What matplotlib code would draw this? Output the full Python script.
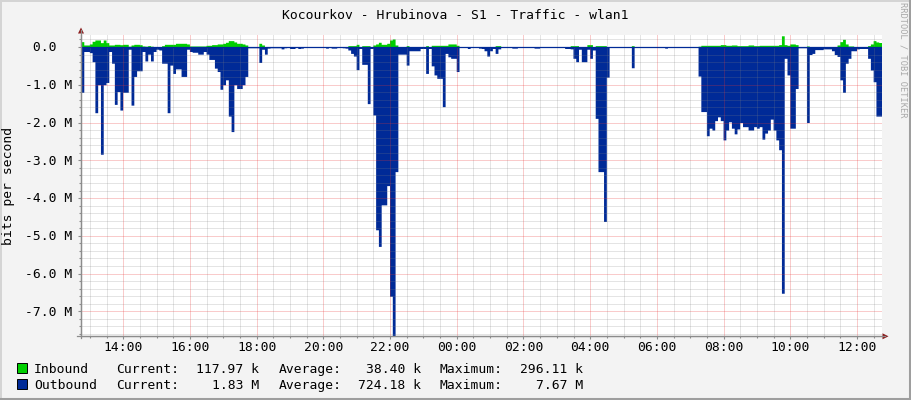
import numpy as np
import pandas as pd
import matplotlib
matplotlib.use("Agg")
import matplotlib.pyplot as plt
import matplotlib.dates as mdates
from matplotlib.lines import Line2D
from matplotlib.patches import Polygon, Rectangle
from matplotlib.transforms import blended_transform_factory, ScaledTranslation

# ---------------- data ----------------
title = "Kocourkov - Hrubinova - S1 - Traffic - wlan1"
y_label = "bits per second"
watermark = "RRDTOOL / TOBI OETIKER"
start_time = "2024-01-01 12:44"
end_time = "2024-01-02 12:44"
step = "5min"

# outbound traffic, M bits/s (drawn downward), one value per 5 minutes
outbound_m = [
    1.2, 0.12, 0.12, 0.15, 0.39, 1.74, 1.0, 2.84, 1.0, 0.94, 0.12, 0.43,
    1.52, 1.18, 1.67, 1.2, 1.2, 0.06, 1.54, 0.78, 0.63, 0.63, 0.12, 0.37,
    0.19, 0.37, 0.12, 0.06, 0.08, 0.43, 0.43, 1.74, 0.48, 0.7, 0.58, 0.58,
    0.78, 0.78, 0.06, 0.12, 0.14, 0.14, 0.19, 0.19, 0.12, 0.19, 0.33, 0.33,
    0.56, 0.65, 1.12, 1.0, 0.87, 1.83, 2.24, 1.0, 1.1, 1.1, 1.0, 0.78,
    0.02, 0.02, 0.02, 0.02, 0.41, 0.06, 0.19, 0.03, 0.02, 0.02, 0.02, 0.02,
    0.05, 0.02, 0.01, 0.04, 0.04, 0.01, 0.04, 0.03, 0.01, 0.01, 0.01, 0.01,
    0.01, 0.01, 0.01, 0.01, 0.03, 0.01, 0.03, 0.03, 0.01, 0.01, 0.02, 0.03,
    0.08, 0.17, 0.24, 0.6, 0.04, 0.46, 0.46, 1.5, 0.04, 1.8, 4.84, 5.28,
    4.18, 4.18, 3.67, 6.6, 7.67, 3.3, 0.19, 0.19, 0.19, 0.48, 0.1, 0.1,
    0.1, 0.1, 0.04, 0.04, 0.7, 0.04, 0.5, 0.74, 0.83, 0.83, 1.58, 0.17,
    0.26, 0.3, 0.3, 0.65, 0.01, 0.01, 0.01, 0.04, 0.01, 0.01, 0.01, 0.03,
    0.04, 0.1, 0.24, 0.1, 0.04, 0.17, 0.05, 0.01, 0.01, 0.01, 0.01, 0.03,
    0.03, 0.01, 0.01, 0.01, 0.01, 0.01, 0.01, 0.03, 0.03, 0.01, 0.01, 0.01,
    0.01, 0.01, 0.01, 0.01, 0.01, 0.01, 0.04, 0.04, 0.05, 0.3, 0.39, 0.06,
    0.39, 0.39, 0.06, 0.3, 0.08, 1.89, 3.3, 3.3, 4.62, 0.8, 0.01, 0.01,
    0.01, 0.01, 0.01, 0.01, 0.01, 0.01, 0.55, 0.01, 0.01, 0.01, 0.01, 0.01,
    0.01, 0.01, 0.01, 0.01, 0.01, 0.01, 0.03, 0.01, 0.01, 0.01, 0.01, 0.01,
    0.01, 0.01, 0.01, 0.01, 0.01, 0.01, 0.77, 1.71, 1.71, 2.35, 2.15, 2.2,
    1.95, 1.85, 1.95, 2.46, 2.2, 1.98, 2.15, 2.3, 2.17, 2.0, 2.11, 2.11,
    2.2, 2.2, 2.11, 2.15, 2.11, 2.44, 2.28, 2.2, 1.91, 2.2, 2.46, 2.72,
    6.52, 0.3, 0.74, 2.15, 2.15, 1.1, 0.02, 0.02, 0.02, 2.0, 0.2, 0.17,
    0.07, 0.07, 0.07, 0.05, 0.05, 0.05, 0.1, 0.2, 0.25, 0.87, 1.2, 0.43,
    0.3, 0.1, 0.1, 0.05, 0.04, 0.04, 0.04, 0.3, 0.61, 0.92, 1.83, 1.83,
]

# inbound traffic, k bits/s (drawn upward)
inbound_k = [
    141, 53, 53, 80, 150, 185, 185, 115, 185, 115, 53, 53,
    70, 70, 60, 70, 70, 20, 53, 70, 70, 60, 26, 20,
    35, 20, 10, 9, 9, 35, 70, 70, 70, 70, 97, 97,
    97, 97, 80, 26, 26, 26, 26, 26, 26, 44, 44, 62,
    62, 80, 80, 97, 124, 168, 168, 133, 97, 97, 80, 53,
    0, 0, 0, 0, 97, 53, 5, 2, 2, 2, 2, 2,
    2, 2, 2, 2, 2, 2, 2, 2, 2, 2, 2, 2,
    2, 2, 2, 2, 2, 2, 2, 2, 2, 2, 2, 2,
    35, 35, 35, 70, 5, 35, 35, 35, 10, 53, 80, 124,
    70, 70, 97, 185, 212, 53, 8, 8, 8, 35, 5, 5,
    5, 5, 5, 5, 35, 5, 44, 44, 44, 44, 44, 44,
    80, 80, 80, 44, 2, 2, 2, 2, 2, 2, 2, 2,
    2, 2, 2, 2, 2, 35, 35, 2, 2, 2, 2, 2,
    2, 2, 2, 2, 2, 2, 2, 2, 2, 2, 2, 2,
    2, 2, 2, 2, 2, 2, 2, 2, 35, 35, 35, 2,
    2, 2, 62, 62, 2, 35, 35, 35, 35, 2, 2, 2,
    2, 2, 2, 2, 2, 2, 35, 2, 2, 2, 2, 2,
    2, 2, 2, 2, 2, 2, 2, 2, 2, 2, 2, 2,
    2, 2, 2, 2, 2, 2, 20, 44, 44, 44, 44, 44,
    44, 44, 62, 62, 44, 44, 53, 53, 35, 35, 35, 35,
    53, 53, 35, 35, 44, 44, 44, 44, 44, 44, 44, 62,
    296.11, 62, 44, 80, 80, 62, 2, 2, 2, 26, 2, 2,
    2, 2, 2, 2, 2, 2, 2, 2, 53, 141, 203, 80,
    26, 26, 2, 2, 2, 2, 2, 35, 80, 168, 133, 118,
]

ytick_values_m = [0, -1, -2, -3, -4, -5, -6, -7]
ytick_labels = [" 0.0", "-1.0 M", "-2.0 M", "-3.0 M", "-4.0 M", "-5.0 M", "-6.0 M", "-7.0 M"]
xtick_times = ["2024-01-01 14:00", "2024-01-01 16:00", "2024-01-01 18:00", "2024-01-01 20:00",
               "2024-01-01 22:00", "2024-01-02 00:00", "2024-01-02 02:00", "2024-01-02 04:00",
               "2024-01-02 06:00", "2024-01-02 08:00", "2024-01-02 10:00", "2024-01-02 12:00"]
xtick_labels = ["14:00", "16:00", "18:00", "20:00", "22:00", "00:00",
                "02:00", "04:00", "06:00", "08:00", "10:00", "12:00"]

legend_names = ["Inbound", "Outbound"]
legend_colors = ["#00CF00", "#002A97"]
legend_current = ["117.97 k", "1.83 M"]
legend_average = ["38.40 k", "724.18 k"]
legend_maximum = ["296.11 k", "7.67 M"]

# ---------------- style ----------------
W, H = 911, 400
MONO = "DejaVu Sans Mono"
FS = 9.4
plt.rcParams["lines.scale_dashes"] = False


def fx(x):
    return x / W


def fy(y):
    return 1 - y / H


fig = plt.figure(figsize=(W / 100, H / 100), dpi=100)
fig.patch.set_facecolor("#F3F3F3")

ax_left, ax_right, ax_top, ax_bottom = 81, 881.5, 35, 336.3
ax = fig.add_axes([fx(ax_left), fy(ax_bottom), (ax_right - ax_left) / W, (ax_bottom - ax_top) / H])
ax.set_facecolor("white")

edges = pd.date_range(start_time, periods=len(outbound_m) + 1, freq=step)
xe = mdates.date2num(edges.to_pydatetime())
out_v = -np.array(outbound_m) * 1e6
in_v = np.array(inbound_k) * 1e3

ax.fill_between(xe, 0, np.r_[in_v, in_v[-1]], step="post", color=legend_colors[0], lw=0, zorder=1)
ax.fill_between(xe, 0, np.r_[out_v, out_v[-1]], step="post", color=legend_colors[1], lw=0, zorder=1)
ax.axhline(0, color=legend_colors[1], lw=0.9, zorder=4)

x0 = mdates.date2num(pd.Timestamp(start_time).to_pydatetime())
x1 = mdates.date2num(pd.Timestamp(end_time).to_pydatetime())
ax.set_xlim(x0, x1)
ax.set_ylim(-7.66e6, 0.317e6)

# grid (drawn over the areas, like rrdtool)
gray = (0.5, 0.5, 0.5, 0.42)
red = (0.92, 0.2, 0.2, 0.5)
dash = (0, (0.72, 0.72))
minor_x = pd.date_range("2024-01-01 13:00", "2024-01-02 12:30", freq="30min")
major_x = pd.to_datetime(xtick_times)
for t in minor_x:
    if t not in set(major_x):
        ax.axvline(mdates.date2num(t.to_pydatetime()), color=gray, lw=0.72, ls=dash, zorder=2)
for t in major_x:
    ax.axvline(mdates.date2num(t.to_pydatetime()), color=red, lw=0.72, ls=dash, zorder=3)
minor_y = np.arange(-76, 2) * 0.1e6
for v in np.arange(-38, 2) * 0.2e6:
    if abs(v / 1e6 - round(v / 1e6)) > 1e-6:
        ax.axhline(v, color=gray, lw=0.72, ls=dash, zorder=2)
for v in ytick_values_m:
    if v != 0:
        ax.axhline(v * 1e6, color=red, lw=0.72, ls=dash, zorder=3)

for s in ["top", "right"]:
    ax.spines[s].set_visible(False)
for s in ["left", "bottom"]:
    ax.spines[s].set_color("#8c8c8c")
    ax.spines[s].set_linewidth(0.9)

ax.set_xticks(mdates.date2num(major_x.to_pydatetime()))
ax.set_xticks(mdates.date2num(minor_x.to_pydatetime()), minor=True)
ax.set_yticks(np.array(ytick_values_m) * 1e6)
ax.set_yticks(np.arange(-38, 2) * 0.2e6, minor=True)
ax.tick_params(which="major", direction="out", length=2.5, width=0.8, color="#8c8c8c",
               labelbottom=False, labelleft=False)
ax.tick_params(which="minor", direction="out", length=1.5, width=0.8, color="#8c8c8c")

# axis extensions and arrows
fig.add_artist(Line2D([fx(ax_left), fx(ax_left)], [fy(ax_bottom + 2), fy(30)], color="#8c8c8c", lw=0.9))
fig.add_artist(Line2D([fx(77), fx(885)], [fy(ax_bottom), fy(ax_bottom)], color="#8c8c8c", lw=0.9))
fig.add_artist(Polygon([[fx(78), fy(33.5)], [fx(84), fy(33.5)], [fx(81), fy(27.5)]],
                       closed=True, color="#8b1c1c", lw=0))
fig.add_artist(Polygon([[fx(882.5), fy(333.3)], [fx(882.5), fy(339.3)], [fx(888.5), fy(336.3)]],
                       closed=True, color="#8b1c1c", lw=0))

# tick labels
ytr = blended_transform_factory(fig.transFigure, ax.transData) + ScaledTranslation(0, -4.3 / 100, fig.dpi_scale_trans)
for v, lab in zip(ytick_values_m, ytick_labels):
    fig.text(fx(25), v * 1e6, lab, transform=ytr, ha="left", va="baseline",
             fontsize=FS, family=MONO, color="#000000")
xtr = blended_transform_factory(ax.transData, fig.transFigure)
for t, lab in zip(major_x, xtick_labels):
    fig.text(mdates.date2num(t.to_pydatetime()), fy(350.7), lab, transform=xtr, ha="center",
             va="baseline", fontsize=FS, family=MONO)

# title, axis label, watermark
fig.text(0.5, fy(19), title, ha="center", va="baseline", fontsize=FS, family=MONO)
fig.text(fx(15.5), fy(186), y_label, rotation=90, ha="right", va="center", fontsize=FS, family=MONO)
fig.text(fx(903), fy(60), watermark, rotation=270, ha="center", va="center", fontsize=6.2,
         family=MONO, color="#a8a8a8")

# legend
rows_baseline = [373.3, 389.3]
rows_box = [363, 379]
for k in range(2):
    fig.add_artist(Rectangle((fx(17), fy(rows_box[k] + 10)), 10 / W, 10 / H,
                             facecolor=legend_colors[k], edgecolor="black", lw=0.7))
    yb = fy(rows_baseline[k])
    kw = dict(va="baseline", fontsize=FS, family=MONO)
    fig.text(fx(34), yb, legend_names[k], ha="left", **kw)
    fig.text(fx(116.5), yb, "Current:", ha="left", **kw)
    fig.text(fx(259.5), yb, legend_current[k], ha="right", **kw)
    fig.text(fx(279), yb, "Average:", ha="left", **kw)
    fig.text(fx(421), yb, legend_average[k], ha="right", **kw)
    fig.text(fx(440), yb, "Maximum:", ha="left", **kw)
    fig.text(fx(583.5), yb, legend_maximum[k], ha="right", **kw)

# outer frame (3d look)
fig.add_artist(Line2D([0, 1], [fy(0.7), fy(0.7)], color="#d4d4d4", lw=1.4))
fig.add_artist(Line2D([fx(0.7), fx(0.7)], [0, 1], color="#d4d4d4", lw=1.4))
fig.add_artist(Line2D([0, 1], [fy(398.5), fy(398.5)], color="#9e9e9e", lw=2.2))
fig.add_artist(Line2D([fx(909.5), fx(909.5)], [0, 1], color="#9e9e9e", lw=2.2))

fig.savefig("out.png", dpi=100, facecolor=fig.get_facecolor())
